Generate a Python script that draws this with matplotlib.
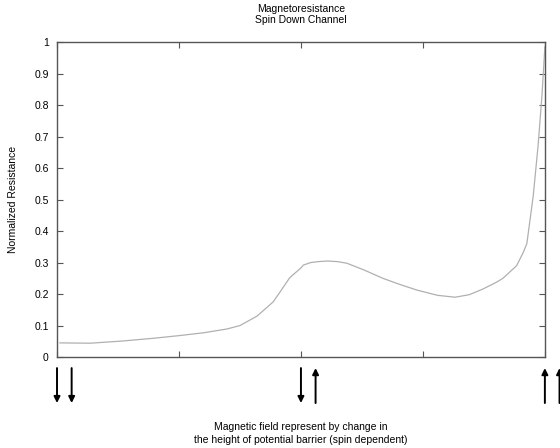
import numpy as np
import matplotlib.pyplot as plt
import matplotlib.transforms as mtransforms

plt.rcParams['font.family'] = ['Liberation Sans', 'DejaVu Sans']

# 곡선 데이터
field = [0.006, 0.068, 0.135, 0.2, 0.25, 0.3, 0.348, 0.375, 0.41, 0.443,
         0.46, 0.477, 0.5,
         0.505, 0.52, 0.535, 0.555, 0.575, 0.594, 0.63, 0.668, 0.70, 0.737,
         0.78, 0.816, 0.845, 0.873, 0.90, 0.914, 0.942, 0.955,
         0.963, 0.976, 0.986, 0.994, 1.0]
resist = [0.045, 0.044, 0.051, 0.060, 0.068, 0.077, 0.089, 0.10, 0.13, 0.175,
          0.213, 0.252, 0.283,
          0.292, 0.300, 0.303, 0.305, 0.303, 0.298, 0.276, 0.25, 0.232, 0.213,
          0.196, 0.19, 0.198, 0.216, 0.237, 0.25, 0.29, 0.33,
          0.36, 0.51, 0.67, 0.83, 0.985]

# 스핀 배치 (x 위치, 두 화살표 방향)
spin_x = [0.0, 0.5, 1.0]
spin_dirs = [('down', 'down'), ('down', 'up'), ('up', 'up')]

fig = plt.figure(figsize=(5.6, 4.48), dpi=100)
ax = fig.add_axes([0.1018, 0.203, 0.8712, 0.703])

ax.plot(field, resist, color='#b0b0b0', lw=0.9)

ax.set_xlim(0, 1)
ax.set_ylim(0, 1)
ax.set_xticks([0, 0.25, 0.5, 0.75, 1])
ax.set_xticklabels([])
ax.set_yticks(np.arange(0, 1.01, 0.1))
ax.set_yticklabels(['0', '0.1', '0.2', '0.3', '0.4', '0.5', '0.6', '0.7',
                    '0.8', '0.9', '1'])
ax.tick_params(direction='in', length=4, width=0.8, color='#555555',
               labelsize=7.5, top=True, right=True, pad=6)
for s in ax.spines.values():
    s.set_color('#555555')
    s.set_linewidth(1.0)

ax.set_title('Magnetoresistance\nSpin Down Channel', fontsize=7.5,
             linespacing=1.1, pad=14)
ax.set_ylabel('Normalized Resistance', fontsize=7.5, labelpad=12)
ax.set_xlabel('Magnetic field represent by change in\n'
              'the height of potential barrier (spin dependent)',
              fontsize=7.5, linespacing=1.3, va='top')
ax.xaxis.set_label_coords(0.5, -0.207)

# 스핀 화살표
trans = mtransforms.blended_transform_factory(ax.transData, ax.transAxes)
y_top, y_bot = -0.035, -0.146
dx = 0.03
for x0, dirs in zip(spin_x, spin_dirs):
    for k, d in enumerate(dirs):
        xx = x0 + k * dx
        if d == 'down':
            start, end = (xx, y_top), (xx, y_bot)
        else:
            start, end = (xx, y_bot), (xx, y_top)
        ax.annotate('', xy=end, xytext=start, xycoords=trans,
                    textcoords=trans, annotation_clip=False,
                    arrowprops=dict(arrowstyle='-|>', color='black',
                                    lw=1.4, mutation_scale=9,
                                    shrinkA=0, shrinkB=0))

fig.savefig('out.png', dpi=100)
